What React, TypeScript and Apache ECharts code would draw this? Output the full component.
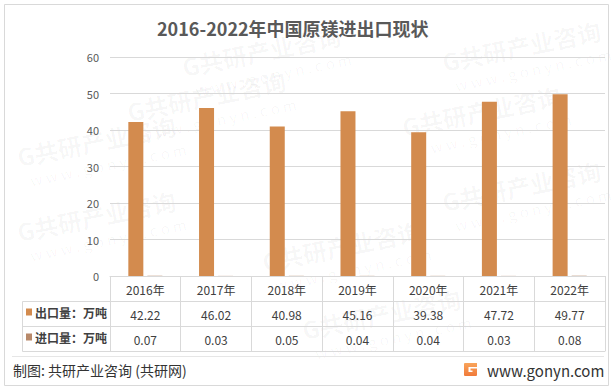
import React, { useEffect, useRef } from "react";
import * as echarts from "echarts";

const categories = ["2016年", "2017年", "2018年", "2019年", "2020年", "2021年", "2022年"];
const exportVals = [42.22, 46.02, 40.98, 45.16, 39.38, 47.72, 49.77];
const importVals = [0.07, 0.03, 0.05, 0.04, 0.04, 0.03, 0.08];
const exportName = "出口量：万吨";
const importName = "进口量：万吨";
const yTicks = { min: 0, max: 60, interval: 10 };
const titleText = "2016-2022年中国原镁进出口现状";
const sourceText = "制图: 共研产业咨询 (共研网)";
const siteText = "www.gonyn.com";

const FONT = "'Noto Sans CJK SC', 'Noto Sans', sans-serif";
const LINE = "#D9D9D9";
const WM = "rgba(0,0,0,0.035)";

echarts.graphic.registerShape(
  "gonynLogo",
  echarts.graphic.extendPath(
    "M0 1 Q0 0 1 0 L13 0 L13 4 L4.5 4 L4.5 9 L8.5 9 L8.5 7.5 L6.5 7.5 L6.5 5.5 L13 5.5 L13 12 Q13 13 12 13 L1 13 Q0 13 0 12 Z",
    {}
  )
);

function watermark(x: number, y: number) {
  return {
    type: "group",
    x,
    y,
    rotation: 0.2,
    silent: true,
    z: 0,
    children: [
      {
        type: "text",
        x: 0,
        y: 0,
        style: { text: "G共研产业咨询", font: `bold 24px ${FONT}`, fill: WM },
      },
      {
        type: "text",
        x: 8,
        y: 30,
        style: { text: "w w w . g o n y n . c o m", font: `15px ${FONT}`, fill: WM },
      },
    ],
  };
}

export default function App() {
  const ref = useRef<HTMLDivElement>(null);

  useEffect(() => {
    document.body.style.margin = "0";
    if (!ref.current) return;
    const chart = echarts.init(ref.current, undefined, { renderer: "svg" });

    const valueAxis = (offset: number, vals: number[] | null) => ({
      type: "category",
      data: categories,
      position: "bottom",
      offset,
      axisLine: { show: true, lineStyle: { color: LINE, width: 1 } },
      axisTick: { show: false },
      splitLine: { show: false },
      axisLabel: {
        show: !!vals,
        interval: 0,
        margin: 7,
        color: "#404040",
        fontSize: 12,
        fontFamily: FONT,
        formatter: (_v: string, i: number) => (vals ? vals[i].toFixed(2) : ""),
      },
    });

    const legendStyle = {
      left: 26,
      padding: 0,
      orient: "vertical",
      icon: "rect",
      itemWidth: 6,
      itemHeight: 7,
      selectedMode: false,
      textStyle: { fontSize: 12, fontWeight: "bold", color: "#404040", fontFamily: FONT, padding: [0, 0, 0, -2] },
    };

    chart.setOption({
      animation: false,
      backgroundColor: "#FFFFFF",
      title: {
        text: titleText,
        left: 157,
        top: 19,
        padding: 0,
        textStyle: { fontSize: 18, fontWeight: "bold", color: "#595959", fontFamily: FONT },
      },
      legend: [
        { ...legendStyle, data: [exportName], top: 306 },
        { ...legendStyle, data: [importName], top: 331 },
      ],
      grid: { left: 110, right: 11, top: 57, bottom: 115 },
      xAxis: [
        {
          type: "category",
          data: categories,
          position: "bottom",
          axisLine: { show: true, lineStyle: { color: LINE, width: 1 } },
          axisTick: { show: true, length: 75, lineStyle: { color: LINE, width: 1 } },
          splitLine: { show: false },
          axisLabel: {
            interval: 0,
            margin: 7,
            color: "#404040",
            fontSize: 12,
            fontFamily: FONT,
          },
        },
        valueAxis(25, exportVals),
        valueAxis(50, importVals),
        valueAxis(75, null),
      ],
      yAxis: {
        type: "value",
        min: yTicks.min,
        max: yTicks.max,
        interval: yTicks.interval,
        axisLine: { show: false },
        axisTick: { show: false },
        splitLine: { lineStyle: { color: LINE, width: 1 } },
        axisLabel: { color: "#595959", fontSize: 11, margin: 11, fontFamily: FONT },
      },
      series: [
        {
          name: exportName,
          type: "bar",
          data: exportVals,
          barWidth: 15,
          barGap: "27%",
          itemStyle: { color: "#D38B4E" },
        },
        {
          name: importName,
          type: "bar",
          data: importVals,
          barWidth: 15,
          itemStyle: { color: "#B8896A" },
        },
      ],
      graphic: [
        watermark(180, 55),
        watermark(125, 100),
        watermark(15, 145),
        watermark(400, 115),
        watermark(440, 50),
        watermark(15, 220),
        watermark(260, 250),
        watermark(440, 190),
        watermark(300, 318),
        {
          type: "rect",
          silent: true,
          z: 1,
          shape: { x: 4.5, y: 4.5, width: 604, height: 381 },
          style: { fill: "none", stroke: LINE, lineWidth: 1 },
        },
        {
          type: "polyline",
          silent: true,
          z: 1,
          shape: { points: [[110, 301.5], [22.5, 301.5], [22.5, 351.5], [110, 351.5]] },
          style: { fill: "none", stroke: LINE, lineWidth: 1 },
        },
        {
          type: "line",
          silent: true,
          z: 1,
          shape: { x1: 22.5, y1: 326.5, x2: 110, y2: 326.5 },
          style: { stroke: LINE, lineWidth: 1 },
        },
        {
          type: "line",
          silent: true,
          z: 1,
          shape: { x1: 12, y1: 356.5, x2: 604, y2: 356.5 },
          style: { stroke: "#E6E6E6", lineWidth: 1 },
        },
        {
          type: "text",
          x: 13,
          y: 370,
          z: 2,
          style: { text: sourceText, font: `14px ${FONT}`, fill: "#333333", verticalAlign: "middle" },
        },
        {
          type: "gonynLogo",
          x: 464,
          y: 363,
          z: 2,
          style: {
            fill: new echarts.graphic.LinearGradient(0, 0, 0, 1, [
              { offset: 0, color: "#F9A45A" },
              { offset: 1, color: "#F07A3A" },
            ]),
          },
        },
        {
          type: "text",
          x: 487,
          y: 370,
          z: 2,
          style: { text: siteText, font: `15px ${FONT}`, fill: "#333333", verticalAlign: "middle" },
        },
      ],
    });

    return () => chart.dispose();
  }, []);

  return <div ref={ref} style={{ width: 616, height: 391 }} />;
}
